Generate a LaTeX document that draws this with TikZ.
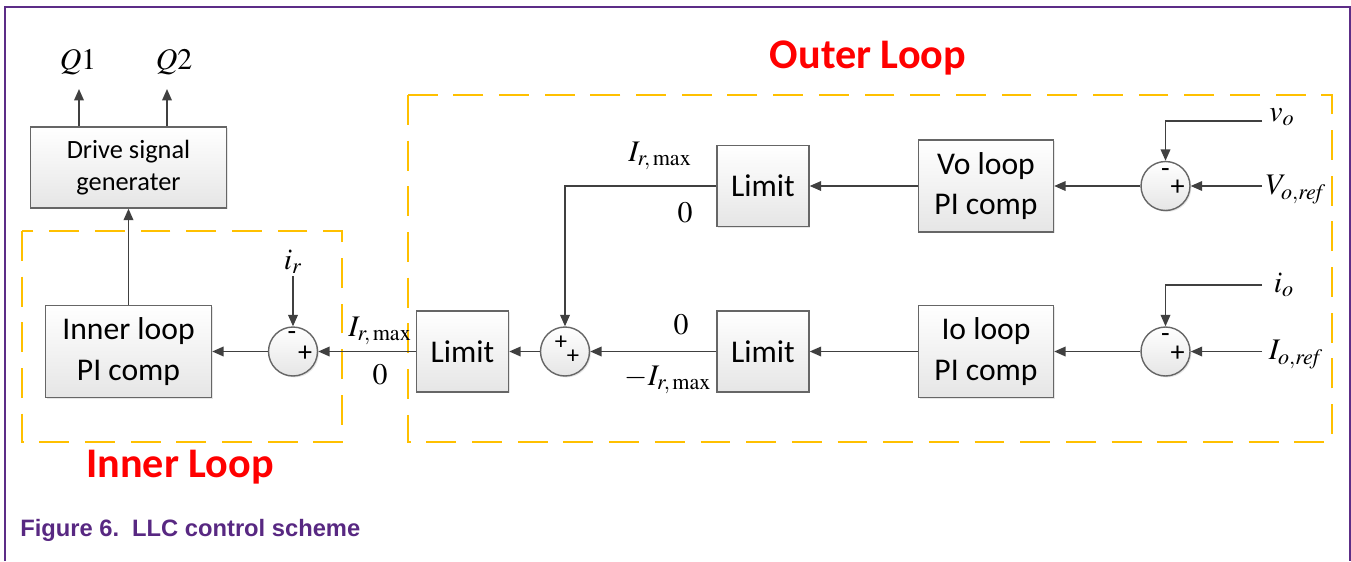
\documentclass[tikz,border=0pt]{standalone}
\usepackage{mathptmx}
\usepackage[no-math]{fontspec}
\newfontfamily\carlito{Carlito}
\newfontfamily\capfont{Liberation Sans}
\usepackage{xcolor}
\usetikzlibrary{arrows.meta, positioning, shadows}
\definecolor{framecol}{RGB}{92,45,135}
\definecolor{capcol}{RGB}{88,40,130}
\definecolor{loopyellow}{RGB}{255,192,0}

\begin{document}
\begin{tikzpicture}[x=0.02cm, y=-0.02cm, >={Triangle[length=6.5pt,width=5.5pt]},
		block/.style={draw=black!60, line width=0.8pt, top color=white, bottom color=black!10,
			drop shadow={shadow xshift=0.8pt, shadow yshift=-0.8pt, opacity=0.2},
			align=center, inner sep=0pt, font=\carlito\fontsize{18}{23}\selectfont},
		sumnode/.style={circle, draw=black!60, line width=0.8pt, top color=white, bottom color=black!10,
			drop shadow={shadow xshift=0.8pt, shadow yshift=-0.8pt, opacity=0.2},
			minimum size=0.98cm, inner sep=0pt},
		sign/.style={inner sep=0pt, font=\carlito\fontsize{16}{16}\selectfont},
		lbl/.style={inner sep=1pt, font=\fontsize{17}{20}\selectfont},
		wire/.style={draw=black!75, line width=0.8pt},
		loopbox/.style={draw=loopyellow, line width=1.1pt, dash pattern=on 17pt off 9pt},
		looptitle/.style={text=red, font=\carlito\bfseries\fontsize{24}{28}\selectfont}]
	\useasboundingbox (0,0) rectangle (1351,561);
	% page frame
	\draw[framecol, line width=1.2pt] (5,561) -- (5,7) -- (1350,7) -- (1350,561);
	% loop regions
	\draw[loopbox] (22,231) rectangle (342,442);
	\draw[loopbox] (408,95) rectangle (1332,442);
	\node[looptitle] at (868,58) {Outer Loop};
	\node[looptitle] at (180,467) {Inner Loop};
	% blocks
	\node[block, minimum width=3.92cm, minimum height=1.62cm, font=\carlito\fontsize{15}{18}\selectfont]
	(drive) at (128.5,167.5) {Drive signal\\generater};
	\node[block, minimum width=3.32cm, minimum height=1.84cm] (innerpi) at (128.5,351.5) {Inner loop\\PI comp};
	\node[block, minimum width=1.84cm, minimum height=1.62cm] (limo) at (462.5,351.5) {Limit};
	\node[block, minimum width=1.84cm, minimum height=1.62cm] (limv) at (763,186) {Limit};
	\node[block, minimum width=1.84cm, minimum height=1.62cm] (limi) at (763,351.5) {Limit};
	\node[block, minimum width=2.7cm, minimum height=1.84cm] (vopi) at (986,186) {Vo loop\\PI comp};
	\node[block, minimum width=2.7cm, minimum height=1.84cm] (iopi) at (986,351.5) {Io loop\\PI comp};
	% summing junctions
	\node[sumnode] (sumi) at (293,351.5) {};
	\node[sumnode] (sumo) at (565,351.5) {};
	\node[sumnode] (sumv) at (1165.5,186) {};
	\node[sumnode] (sumc) at (1165.5,351.5) {};
	\node[sign] at ([shift={(-1,-15)}]sumi.center) {-};
	\node[sign] at ([shift={(12,2)}]sumi.center) {+};
	\node[sign, font=\carlito\fontsize{14}{14}\selectfont] at ([shift={(-4,-9)}]sumo.center) {+};
	\node[sign, font=\carlito\fontsize{14}{14}\selectfont] at ([shift={(8,5)}]sumo.center) {+};
	\node[sign] at ([shift={(0,-13)}]sumv.center) {-};
	\node[sign] at ([shift={(12,2)}]sumv.center) {+};
	\node[sign] at ([shift={(0,-13)}]sumc.center) {-};
	\node[sign] at ([shift={(12,2)}]sumc.center) {+};
	% signals
	\node[lbl] (q1) at (78,62) {$Q1$};
	\node[lbl] (q2) at (174,62) {$Q2$};
	\coordinate (q1end) at (79,89);
	\coordinate (q2end) at (167,89);
	\node[lbl] (ir) at (293,262) {$i_r$};
	\node[lbl] (vo) at (1282,117) {$v_o$};
	\node[lbl] (vref) at (1296,190) {$V_{o,\mathit{ref}}$};
	\node[lbl] (io) at (1284,285) {$i_o$};
	\node[lbl] (iref) at (1296,355) {$I_{o,\mathit{ref}}$};
	\coordinate (vostart) at (1262,121);
	\coordinate (vrefstart) at (1262,186);
	\coordinate (iostart) at (1262,285);
	\coordinate (irefstart) at (1262,351.5);
	% limit values
	\node[lbl] at (380,331) {$I_{r,\,\max}$};
	\node[lbl] at (380,375) {$0$};
	\node[lbl] at (660,156) {$I_{r,\,\max}$};
	\node[lbl] at (685,213) {$0$};
	\node[lbl] at (681,325) {$0$};
	\node[lbl] at (668,380) {$-I_{r,\,\max}$};
	% connections
	\draw[wire, ->] (drive.north -| q1end) -- (q1end);
	\draw[wire, ->] (drive.north -| q2end) -- (q2end);
	\draw[wire, ->] (innerpi) -- (drive);
	\draw[wire, ->] (sumi) -- (innerpi);
	\draw[wire, ->] (ir) -- (sumi);
	\draw[wire, ->] (limo) -- (sumi);
	\draw[wire, ->] (sumo) -- (limo);
	\draw[wire, ->] (limv.west) -| (sumo.north);
	\draw[wire, ->] (limi) -- (sumo);
	\draw[wire, ->] (vopi) -- (limv);
	\draw[wire, ->] (iopi) -- (limi);
	\draw[wire, ->] (sumv) -- (vopi);
	\draw[wire, ->] (sumc) -- (iopi);
	\draw[wire, ->] (vostart) -| (sumv.north);
	\draw[wire, ->] (vrefstart) -- (sumv);
	\draw[wire, ->] (iostart) -| (sumc.north);
	\draw[wire, ->] (irefstart) -- (sumc);
	% caption
	\node[anchor=west, inner sep=0pt, text=capcol, font=\capfont\bfseries\fontsize{13.5}{16}\selectfont]
	at (20,530) {Figure 6.\hspace{0.55em}LLC control scheme};
\end{tikzpicture}
\end{document}
